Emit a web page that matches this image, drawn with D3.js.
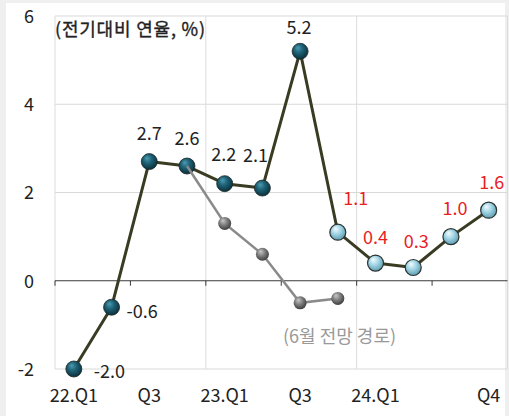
<!DOCTYPE html>
<html>
<head>
<meta charset="utf-8">
<script src="https://cdn.jsdelivr.net/npm/d3@7"></script>
<style>
  html, body { margin: 0; padding: 0; background: #fff; }
  svg { display: block; font-family: "Noto Sans CJK KR", "Noto Sans", sans-serif; }
</style>
</head>
<body>
<svg id="chart" width="509" height="416"></svg>
<script>
// Quarters 2022.Q1 – 2024.Q4
const quarters = ["22Q1","22Q2","22Q3","22Q4","23Q1","23Q2","23Q3","23Q4","24Q1","24Q2","24Q3","24Q4"];
const quarterLabels = ["22.Q1","","Q3","","23.Q1","","Q3","","24.Q1","","","Q4"];
// Quarter-on-quarter annualised growth, %
const actual   = [-2.0, -0.6, 2.7, 2.6, 2.2, 2.1, 5.2, null, null, null, null, null];
const forecast = [null, null, null, null, null, null, 5.2, 1.1, 0.4, 0.3, 1.0, 1.6];
// Earlier (June) outlook path
const junePath = [null, null, null, 2.6, 1.3, 0.6, -0.5, -0.4, null, null, null, null];
const yTicks = [-2, 0, 2, 4, 6];
const unitTitle = "(전기대비 연율, %)";
const junePathLabel = "(6월 전망 경로)";

const svg = d3.select("#chart");
const W = 509, H = 416;
const hyphen = s => s.replace(/\u2212/g, "-");

// frame
svg.append("rect").attr("width", W).attr("height", H).attr("fill", "#efefef");
svg.append("rect").attr("x", 6).attr("y", 3).attr("width", W - 10).attr("height", H - 3).attr("fill", "#fff");

const x = d3.scaleBand().domain(quarters).range([55, 507.5]).padding(0);
const cx = q => x(q) + x.bandwidth() / 2;
const y = d3.scaleLinear().domain([-2, 6]).range([369, 16]);

// gradients for the ball markers
const defs = svg.append("defs");
function ball(id, stops) {
  const g = defs.append("radialGradient").attr("id", id)
    .attr("cx", "45%").attr("cy", "40%").attr("r", "60%").attr("fx", "35%").attr("fy", "28%");
  stops.forEach(([o, c]) => g.append("stop").attr("offset", o).attr("stop-color", c));
}
ball("ballDark", [["0%", "#4f9bb0"], ["45%", "#1e6378"], ["100%", "#0b2f3b"]]);
ball("ballLight", [["0%", "#f4fcff"], ["45%", "#a9d9e8"], ["100%", "#5d9db2"]]);
ball("ballGray", [["0%", "#c8c8c8"], ["50%", "#7f7f7f"], ["100%", "#3e3e3e"]]);

// horizontal gridlines
const grid = svg.append("g");
grid.selectAll("line.h").data(yTicks.filter(t => t !== 0)).join("line")
  .attr("x1", 55).attr("x2", 507.5)
  .attr("y1", d => y(d)).attr("y2", d => y(d))
  .attr("stroke", "#d9d9d9").attr("stroke-width", 1);
// vertical gridlines at year boundaries
const yearStarts = quarters.filter(q => q.endsWith("Q1"));
grid.selectAll("line.v").data(yearStarts.concat(["end"])).join("line")
  .attr("x1", d => d === "end" ? 507.5 : x(d)).attr("x2", d => d === "end" ? 507.5 : x(d))
  .attr("y1", y(6)).attr("y2", y(-2))
  .attr("stroke", "#dcdcdc").attr("stroke-width", 1);

// zero axis with tick marks every half-year
const xAxis = d3.axisBottom(x).tickSize(5).tickFormat("")
  .tickValues(quarters.filter((q, i) => i % 2 === 0));
const axG = svg.append("g").attr("transform", `translate(0,${y(0)})`).call(xAxis);
axG.select(".domain").attr("d", `M55,0H507.5`).attr("stroke", "#3a3a3a");
axG.selectAll(".tick").attr("transform", d => `translate(${x(d)},0)`);
axG.selectAll(".tick line").attr("stroke", "#3a3a3a");

// y tick labels
const yAxis = d3.axisLeft(y).tickValues(yTicks).tickSize(0).tickPadding(0)
  .tickFormat(d => hyphen(d3.format("d")(d)));
const yG = svg.append("g").attr("transform", "translate(34,0)").call(yAxis);
yG.select(".domain").remove();
yG.selectAll("text").attr("font-size", 18).attr("fill", "#222")
  .attr("font-family", "'Noto Sans CJK KR', sans-serif").attr("dy", "0.36em");

// x labels
svg.append("g").selectAll("text").data(quarters).join("text")
  .attr("x", d => cx(d)).attr("y", 402)
  .attr("text-anchor", "middle").attr("font-size", 18).attr("fill", "#222")
  .text((d, i) => quarterLabels[i]);

// unit title
svg.append("text").attr("x", 55).attr("y", 36).attr("font-size", 18)
  .attr("letter-spacing", 0.8).attr("fill", "#222")
  .attr("stroke", "#222").attr("stroke-width", 0.35)
  .text(unitTitle);

const line = d3.line().defined(d => d.v !== null).x(d => cx(d.q)).y(d => y(d.v));
const toPts = arr => arr.map((v, i) => ({ q: quarters[i], v, i }));

// main path (actual + forecast)
const mainVals = actual.map((v, i) => v !== null ? v : forecast[i]);
svg.append("path").datum(toPts(mainVals)).attr("d", line)
  .attr("fill", "none").attr("stroke", "#393c22").attr("stroke-width", 3).attr("stroke-linejoin", "round");

// markers: actual
svg.append("g").selectAll("circle").data(toPts(actual).filter(d => d.v !== null)).join("circle")
  .attr("cx", d => cx(d.q)).attr("cy", d => y(d.v)).attr("r", 8)
  .attr("fill", "url(#ballDark)").attr("stroke", "#1e2a2a").attr("stroke-width", 0.8);
// markers: forecast
svg.append("g").selectAll("circle").data(toPts(forecast).filter((d, i) => d.v !== null && actual[i] === null)).join("circle")
  .attr("cx", d => cx(d.q)).attr("cy", d => y(d.v)).attr("r", 8)
  .attr("fill", "url(#ballLight)").attr("stroke", "#2b3330").attr("stroke-width", 1.2);

// June outlook path
svg.append("path").datum(toPts(junePath)).attr("d", line)
  .attr("fill", "none").attr("stroke", "#8a8a8a").attr("stroke-width", 2.5);
svg.append("g").selectAll("circle").data(toPts(junePath).filter((d, i) => d.v !== null && actual[i] !== junePath[i])).join("circle")
  .attr("cx", d => cx(d.q)).attr("cy", d => y(d.v)).attr("r", 6.5)
  .attr("fill", "url(#ballGray)");

svg.append("text").attr("x", 283).attr("y", 343).attr("font-size", 18).attr("fill", "#999")
  .text(junePathLabel);

// value labels: offset of each label from its point
const labelOffsets = {
  "22Q1": [20, 9, "start"], "22Q2": [15, 11, "start"], "22Q3": [0, -22, "middle"],
  "22Q4": [0, -21, "middle"], "23Q1": [-1, -23, "middle"], "23Q2": [-7, -26, "middle"],
  "23Q3": [-1, -17, "middle"], "23Q4": [18, -27, "middle"], "24Q1": [0, -19, "middle"],
  "24Q2": [3, -20, "middle"], "24Q3": [4, -22, "middle"], "24Q4": [3, -21, "middle"]
};
svg.append("g").selectAll("text").data(toPts(mainVals)).join("text")
  .attr("x", d => cx(d.q) + labelOffsets[d.q][0])
  .attr("y", d => y(d.v) + labelOffsets[d.q][1])
  .attr("text-anchor", d => labelOffsets[d.q][2])
  .attr("font-size", 18)
  .attr("fill", d => actual[d.i] === null ? "#e8211f" : "#222")
  .text(d => hyphen(d3.format(".1f")(d.v)));
</script>
</body>
</html>
